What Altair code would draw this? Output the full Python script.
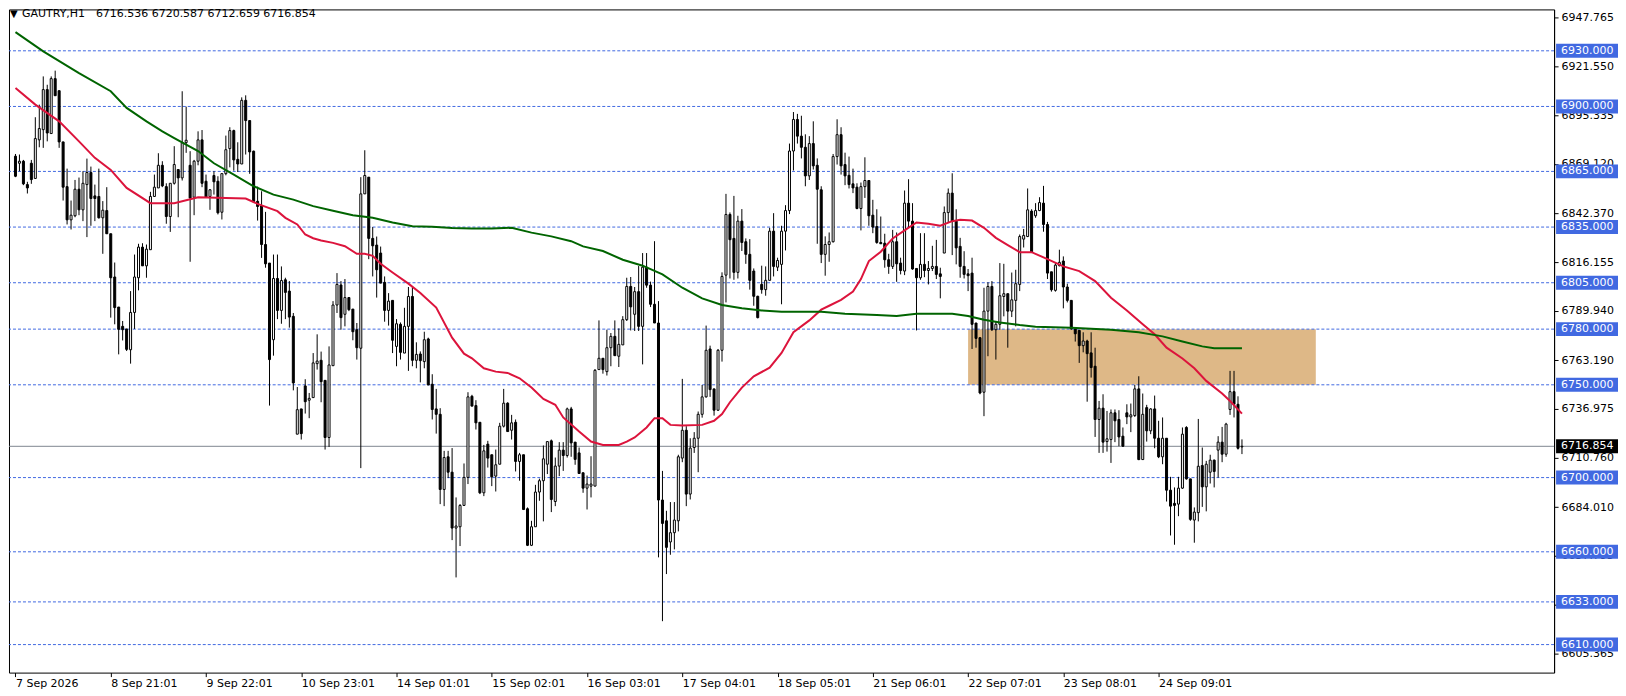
import json
import altair as alt
import pandas as pd

# ---- hourly OHLC candles ----
open_ = [6873.2, 6869.4, 6870.5, 6857.9, 6869.4, 6861.2, 6882.0, 6887.5, 6909.1, 6885.4,
         6915.0, 6908.5, 6880.9, 6856.8, 6838.9, 6841.1, 6855.4, 6844.3, 6857.9, 6864.4,
         6851.8, 6851.5, 6840.0, 6843.9, 6831.4, 6808.1, 6791.9, 6781.5, 6780.1, 6768.9,
         6789.0, 6807.7, 6824.2, 6814.1, 6822.8, 6851.5, 6856.1, 6868.3, 6856.8, 6840.7,
         6858.6, 6866.0, 6861.5, 6880.5, 6868.3, 6851.1, 6870.5, 6882.0, 6859.7, 6851.5,
         6862.8, 6859.7, 6843.0, 6863.8, 6877.3, 6887.0, 6871.5, 6869.0, 6903.3, 6892.4,
         6875.9, 6848.9, 6846.4, 6825.6, 6815.6, 6774.3, 6807.3, 6790.1, 6806.6, 6800.5,
         6786.9, 6723.4, 6737.0, 6749.4, 6741.7, 6743.1, 6761.4, 6763.2, 6752.4, 6721.6,
         6760.3, 6793.0, 6803.8, 6788.0, 6797.0, 6790.8, 6779.7, 6769.7, 6852.9, 6861.9,
         6828.9, 6825.3, 6821.0, 6805.2, 6790.1, 6795.5, 6770.7, 6782.6, 6767.1, 6781.5,
         6797.6, 6763.2, 6766.6, 6762.5, 6774.7, 6750.3, 6737.0, 6734.1, 6693.6, 6711.2,
         6702.9, 6672.8, 6673.5, 6685.0, 6700.1, 6743.8, 6738.8, 6729.8, 6691.8, 6718.0,
         6712.3, 6700.8, 6707.2, 6727.7, 6740.1, 6725.5, 6729.8, 6708.7, 6712.3, 6683.2,
         6663.5, 6673.5, 6692.2, 6698.3, 6707.2, 6719.8, 6687.1, 6706.2, 6714.8, 6711.9,
         6737.0, 6719.1, 6713.3, 6702.6, 6694.3, 6695.4, 6695.4, 6758.2, 6764.3, 6757.1,
         6770.0, 6776.1, 6765.4, 6771.5, 6785.1, 6803.0, 6788.0, 6800.2, 6781.5, 6813.4,
         6803.7, 6793.4, 6783.3, 6687.9, 6676.7, 6665.3, 6670.3, 6676.7, 6710.5, 6725.5,
         6691.1, 6716.2, 6721.2, 6734.1, 6743.5, 6769.3, 6747.8, 6736.3, 6768.6, 6809.1,
         6841.8, 6828.9, 6810.6, 6838.2, 6827.1, 6820.3, 6811.3, 6797.7, 6804.1, 6801.3,
         6806.3, 6832.8, 6813.4, 6814.9, 6832.8, 6843.9, 6876.0, 6893.0, 6884.0, 6878.0,
         6862.6, 6880.0, 6868.3, 6855.1, 6820.3, 6825.6, 6827.1, 6873.0, 6884.8, 6868.7,
         6862.9, 6858.3, 6856.5, 6845.0, 6856.8, 6860.1, 6841.4, 6835.3, 6826.7, 6826.3,
         6817.4, 6813.8, 6827.1, 6815.6, 6811.3, 6847.9, 6838.2, 6812.7, 6807.7, 6814.9,
         6811.6, 6812.7, 6813.8, 6809.8, 6821.0, 6842.8, 6853.3, 6838.2, 6824.6, 6813.8,
         6809.8, 6810.2, 6783.3, 6775.4, 6746.0, 6789.7, 6803.0, 6779.7, 6782.6, 6797.6,
         6799.1, 6789.7, 6795.5, 6804.1, 6828.5, 6829.9, 6843.6, 6841.1, 6843.9, 6847.9,
         6836.4, 6810.9, 6800.9, 6814.2, 6816.7, 6802.7, 6795.5, 6780.1, 6779.3, 6771.1,
         6773.6, 6767.2, 6760.0, 6731.3, 6737.4, 6719.4, 6720.5, 6734.9, 6731.3, 6722.3,
         6734.9, 6732.7, 6733.4, 6747.8, 6709.7, 6737.7, 6725.2, 6737.0, 6721.2, 6711.2,
         6721.2, 6693.2, 6686.1, 6685.7, 6694.3, 6727.0, 6699.3, 6677.1, 6681.1, 6706.5,
         6695.0, 6702.9, 6709.4, 6714.8, 6719.1, 6712.6, 6736.7, 6746.3, 6739.5, 6716.536]

high = [6874.4, 6874.1, 6871.2, 6859.4, 6871.2, 6894.2, 6901.0, 6916.2, 6911.7, 6916.2,
        6919.3, 6908.5, 6880.9, 6866.5, 6849.3, 6860.4, 6861.7, 6865.1, 6871.9, 6867.6,
        6857.9, 6866.5, 6849.0, 6856.5, 6831.4, 6815.9, 6791.9, 6784.4, 6780.1, 6800.5,
        6820.2, 6826.0, 6826.3, 6825.6, 6854.0, 6863.3, 6874.8, 6870.5, 6858.6, 6858.6,
        6878.6, 6866.0, 6908.2, 6899.9, 6875.9, 6871.2, 6886.6, 6887.3, 6863.3, 6855.4,
        6865.1, 6862.4, 6863.8, 6884.3, 6888.8, 6887.5, 6880.7, 6904.9, 6906.0, 6892.4,
        6876.2, 6856.8, 6854.3, 6843.2, 6815.6, 6820.2, 6820.2, 6813.8, 6807.7, 6805.9,
        6788.7, 6748.8, 6737.0, 6753.0, 6745.6, 6767.1, 6777.2, 6767.9, 6752.4, 6770.7,
        6795.1, 6810.2, 6805.9, 6807.0, 6797.3, 6790.8, 6783.3, 6861.9, 6876.4, 6861.9,
        6835.0, 6829.9, 6824.5, 6808.4, 6799.4, 6795.5, 6785.4, 6783.6, 6791.5, 6802.7,
        6802.7, 6772.9, 6768.0, 6778.6, 6775.4, 6755.7, 6747.8, 6737.4, 6714.4, 6714.4,
        6715.9, 6689.3, 6685.7, 6707.6, 6746.0, 6744.6, 6741.7, 6729.8, 6717.6, 6719.8,
        6712.3, 6715.1, 6729.5, 6747.8, 6740.6, 6733.8, 6731.3, 6713.3, 6712.3, 6683.9,
        6676.7, 6696.1, 6699.4, 6717.3, 6719.4, 6720.5, 6710.8, 6719.1, 6719.1, 6737.7,
        6738.1, 6719.1, 6716.2, 6702.6, 6701.1, 6711.5, 6758.5, 6784.7, 6764.3, 6779.7,
        6777.9, 6784.7, 6780.4, 6787.0, 6807.7, 6808.1, 6802.7, 6814.0, 6821.0, 6821.0,
        6805.6, 6827.4, 6795.1, 6703.6, 6682.1, 6686.8, 6686.8, 6712.3, 6753.2, 6727.7,
        6721.2, 6724.5, 6735.6, 6749.9, 6781.9, 6771.1, 6747.8, 6769.3, 6810.6, 6852.9,
        6842.9, 6851.8, 6841.1, 6844.7, 6828.9, 6828.5, 6812.7, 6798.0, 6814.2, 6813.8,
        6834.6, 6842.5, 6818.5, 6835.7, 6846.8, 6880.0, 6897.0, 6896.0, 6895.0, 6885.0,
        6884.0, 6892.0, 6872.0, 6857.0, 6830.0, 6832.1, 6874.4, 6893.1, 6888.8, 6875.1,
        6873.0, 6866.5, 6858.6, 6859.0, 6872.6, 6860.1, 6849.7, 6844.6, 6840.7, 6831.4,
        6820.6, 6833.5, 6832.1, 6818.5, 6854.7, 6860.8, 6847.9, 6812.7, 6831.7, 6831.7,
        6816.7, 6824.9, 6828.1, 6813.1, 6846.1, 6855.8, 6864.0, 6844.6, 6829.2, 6822.0,
        6812.4, 6818.5, 6783.3, 6775.4, 6802.3, 6805.2, 6805.9, 6784.4, 6815.6, 6815.2,
        6799.1, 6810.5, 6812.0, 6831.0, 6834.0, 6855.8, 6844.6, 6847.9, 6851.1, 6857.2,
        6837.8, 6810.9, 6815.6, 6822.8, 6819.2, 6804.5, 6795.5, 6780.4, 6779.3, 6778.3,
        6774.3, 6778.3, 6770.0, 6741.3, 6744.9, 6735.9, 6736.7, 6736.7, 6736.3, 6727.0,
        6739.5, 6739.9, 6749.9, 6754.6, 6745.3, 6739.2, 6737.4, 6744.2, 6730.6, 6732.4,
        6721.2, 6700.4, 6694.7, 6700.4, 6727.0, 6727.7, 6699.3, 6683.9, 6731.6, 6716.2,
        6709.0, 6712.3, 6709.7, 6722.3, 6727.3, 6729.5, 6757.5, 6757.5, 6743.8, 6720.587]

low = [6861.9, 6865.1, 6857.6, 6853.1, 6858.3, 6861.2, 6878.0, 6877.7, 6881.2, 6885.4,
       6905.8, 6877.7, 6849.3, 6836.4, 6833.7, 6840.3, 6841.4, 6838.2, 6829.6, 6835.7,
       6838.2, 6839.6, 6820.6, 6831.4, 6786.2, 6782.6, 6766.4, 6773.9, 6768.2, 6761.4,
       6780.1, 6800.9, 6814.1, 6807.7, 6822.8, 6851.5, 6856.1, 6856.5, 6836.8, 6832.4,
       6857.9, 6840.3, 6860.1, 6875.0, 6816.3, 6841.4, 6868.3, 6856.5, 6850.7, 6844.3,
       6852.5, 6841.8, 6839.1, 6862.9, 6867.2, 6865.4, 6864.7, 6869.0, 6874.1, 6863.7,
       6848.6, 6838.5, 6818.4, 6813.1, 6738.8, 6765.7, 6785.4, 6782.9, 6785.4, 6780.8,
       6747.0, 6723.4, 6720.5, 6734.5, 6732.0, 6743.1, 6758.2, 6740.6, 6715.1, 6716.5,
       6760.3, 6788.7, 6779.7, 6781.5, 6789.7, 6774.0, 6763.6, 6705.1, 6852.9, 6817.7,
       6808.4, 6797.0, 6804.8, 6784.0, 6781.9, 6767.1, 6760.0, 6763.6, 6767.1, 6757.5,
       6760.0, 6758.9, 6751.3, 6758.9, 6749.9, 6731.3, 6723.7, 6685.7, 6684.6, 6699.7,
       6666.3, 6646.2, 6663.1, 6685.0, 6696.5, 6738.5, 6725.9, 6691.1, 6690.0, 6705.4,
       6695.4, 6692.5, 6707.2, 6727.0, 6724.8, 6720.5, 6703.3, 6698.3, 6682.5, 6663.1,
       6663.1, 6673.5, 6687.5, 6676.4, 6701.9, 6681.4, 6684.6, 6700.8, 6703.6, 6710.8,
       6711.2, 6706.9, 6702.2, 6691.8, 6682.8, 6689.3, 6695.4, 6758.2, 6756.0, 6755.0,
       6760.0, 6765.7, 6759.6, 6771.5, 6784.4, 6779.3, 6779.0, 6779.0, 6761.0, 6802.3,
       6791.9, 6783.3, 6657.0, 6622.6, 6648.0, 6658.4, 6661.3, 6671.0, 6708.3, 6684.6,
       6688.2, 6713.3, 6702.9, 6732.3, 6743.1, 6743.5, 6733.4, 6736.0, 6762.5, 6794.4,
       6807.3, 6806.6, 6807.3, 6822.1, 6815.2, 6801.3, 6792.6, 6785.8, 6799.1, 6798.0,
       6806.3, 6808.4, 6811.3, 6793.4, 6822.4, 6842.0, 6865.5, 6880.0, 6872.0, 6857.0,
       6860.4, 6866.0, 6826.0, 6815.6, 6808.8, 6816.3, 6826.7, 6868.7, 6863.3, 6857.6,
       6855.8, 6853.3, 6844.6, 6833.2, 6850.7, 6835.7, 6831.7, 6826.0, 6826.0, 6813.1,
       6809.8, 6812.4, 6805.5, 6809.5, 6809.1, 6834.6, 6812.0, 6779.3, 6806.6, 6808.0,
       6804.1, 6811.3, 6807.0, 6796.6, 6821.0, 6837.5, 6819.9, 6814.9, 6807.7, 6807.3,
       6800.5, 6769.3, 6770.0, 6744.9, 6733.1, 6765.4, 6779.0, 6763.6, 6779.7, 6786.9,
       6770.0, 6786.5, 6781.5, 6800.5, 6824.0, 6829.6, 6821.0, 6840.0, 6843.6, 6832.5,
       6807.0, 6800.2, 6800.2, 6813.8, 6791.2, 6794.4, 6779.7, 6773.3, 6761.8, 6767.5,
       6740.9, 6753.9, 6721.9, 6713.3, 6713.3, 6714.0, 6707.9, 6719.1, 6716.9, 6716.6,
       6728.8, 6724.5, 6732.7, 6709.4, 6709.7, 6719.4, 6723.4, 6715.8, 6710.5, 6707.2,
       6687.1, 6668.8, 6663.8, 6679.2, 6693.9, 6698.9, 6676.7, 6664.9, 6676.4, 6684.2,
       6681.8, 6696.8, 6694.7, 6700.0, 6708.3, 6711.2, 6733.8, 6732.4, 6715.1, 6712.659]

close = [6862.4, 6870.5, 6858.3, 6856.1, 6860.6, 6882.7, 6888.1, 6909.1, 6885.7, 6915.0,
         6905.8, 6880.9, 6856.5, 6838.9, 6841.4, 6855.4, 6844.3, 6858.6, 6864.4, 6850.4,
         6850.4, 6840.0, 6844.1, 6831.4, 6807.7, 6791.6, 6779.9, 6779.7, 6769.1, 6789.0,
         6808.1, 6824.2, 6814.1, 6823.1, 6851.5, 6856.5, 6868.3, 6857.2, 6840.7, 6858.6,
         6868.7, 6861.5, 6880.5, 6881.8, 6850.7, 6870.5, 6882.0, 6858.6, 6851.1, 6855.1,
         6859.4, 6842.7, 6863.8, 6876.7, 6887.0, 6871.2, 6869.0, 6903.3, 6892.4, 6875.5,
         6848.6, 6846.1, 6825.6, 6815.2, 6763.6, 6807.3, 6790.1, 6806.2, 6799.8, 6786.5,
         6751.0, 6736.6, 6723.7, 6740.9, 6742.7, 6761.8, 6762.8, 6751.7, 6721.6, 6760.7,
         6793.0, 6804.1, 6786.2, 6797.0, 6790.5, 6778.6, 6770.0, 6852.9, 6862.8, 6828.9,
         6824.9, 6812.0, 6804.8, 6790.1, 6795.1, 6774.0, 6782.9, 6767.5, 6781.5, 6797.6,
         6763.2, 6766.4, 6763.0, 6774.3, 6749.9, 6736.7, 6734.1, 6693.6, 6710.8, 6702.9,
         6672.8, 6673.9, 6685.0, 6700.1, 6743.5, 6738.5, 6729.5, 6691.8, 6714.4, 6710.5,
         6700.4, 6706.9, 6727.7, 6740.1, 6724.8, 6729.5, 6708.7, 6712.3, 6682.8, 6663.5,
         6673.5, 6692.2, 6698.3, 6710.1, 6719.4, 6688.2, 6706.2, 6714.8, 6711.9, 6737.0,
         6718.7, 6709.8, 6702.2, 6694.3, 6696.5, 6696.5, 6757.8, 6764.3, 6758.2, 6770.0,
         6776.1, 6765.7, 6771.8, 6785.1, 6803.0, 6792.0, 6800.2, 6781.5, 6813.4, 6803.7,
         6793.4, 6783.3, 6687.9, 6675.3, 6662.4, 6670.3, 6677.1, 6711.2, 6725.5, 6691.1,
         6715.9, 6721.2, 6734.1, 6743.5, 6768.6, 6747.4, 6736.3, 6768.6, 6808.4, 6841.8,
         6828.2, 6810.6, 6838.2, 6826.7, 6820.3, 6806.3, 6797.7, 6786.2, 6801.3, 6806.3,
         6832.8, 6813.8, 6817.0, 6832.8, 6843.9, 6876.0, 6893.0, 6884.0, 6878.0, 6862.6,
         6880.0, 6868.0, 6855.4, 6820.3, 6825.6, 6827.1, 6873.0, 6884.8, 6868.0, 6862.6,
         6857.9, 6856.1, 6845.0, 6856.8, 6860.1, 6841.1, 6835.0, 6826.7, 6826.0, 6817.4,
         6813.8, 6827.1, 6815.2, 6811.6, 6847.9, 6838.2, 6812.4, 6807.7, 6814.9, 6811.6,
         6812.7, 6813.8, 6809.5, 6808.4, 6842.8, 6853.3, 6838.2, 6823.8, 6813.8, 6809.5,
         6808.8, 6782.6, 6775.0, 6745.6, 6789.7, 6803.0, 6779.7, 6782.6, 6798.0, 6799.1,
         6789.7, 6795.8, 6804.5, 6829.9, 6830.5, 6844.3, 6821.3, 6843.9, 6848.2, 6836.4,
         6810.2, 6801.2, 6814.5, 6816.0, 6802.7, 6795.5, 6780.1, 6777.5, 6771.1, 6773.6,
         6766.8, 6759.3, 6731.3, 6737.4, 6719.1, 6720.9, 6734.9, 6730.6, 6721.9, 6716.9,
         6732.7, 6733.8, 6747.8, 6709.7, 6734.1, 6725.2, 6737.0, 6721.2, 6711.2, 6721.2,
         6693.2, 6684.6, 6685.0, 6694.3, 6723.4, 6699.3, 6677.5, 6681.4, 6706.1, 6695.0,
         6707.2, 6709.4, 6703.3, 6719.1, 6712.6, 6728.8, 6746.3, 6739.5, 6715.8, 6716.854]

# ---- moving averages (sampled along the drawn lines) ----
red_idx = [0, 5, 11, 16, 20, 24, 28, 34, 40, 46, 53, 58, 61, 66, 68, 71, 73, 75, 77, 80,
           83, 86, 88, 90, 92, 95, 99, 102, 106, 110, 113, 115, 118, 121, 124, 127, 130, 133,
           136, 138, 142, 145, 148, 152, 154, 156, 159, 161, 163, 165, 168, 173, 176, 178,
           180, 183, 186, 190, 193, 196, 200, 203, 205, 208, 211, 213, 215, 218, 221, 224,
           227, 230, 233, 236, 238, 241, 244, 247, 250, 253, 256, 260, 264, 268, 272, 276,
           280, 284, 287, 290, 294, 297, 300, 304, 306, 309]
red_val = [6909.9, 6901.0, 6892.0, 6881.2, 6872.3, 6865.8, 6856.1, 6847.9, 6847.9, 6851.1,
           6850.7, 6850.4, 6847.5, 6843.6, 6840.0, 6836.4, 6831.0, 6829.0, 6827.8, 6826.5,
           6824.7, 6820.6, 6820.6, 6819.5, 6815.2, 6810.5, 6804.5, 6799.5, 6791.6, 6775.4,
           6766.8, 6764.3, 6758.9, 6757.1, 6756.4, 6753.5, 6748.5, 6742.4, 6739.2, 6732.4,
           6724.8, 6719.4, 6717.6, 6717.6, 6719.4, 6721.6, 6727.0, 6732.0, 6732.0, 6728.4,
           6728.1, 6728.4, 6730.6, 6734.2, 6740.6, 6748.5, 6754.6, 6759.2, 6767.2, 6778.3,
           6784.7, 6790.5, 6792.6, 6795.8, 6800.2, 6807.0, 6816.7, 6821.7, 6828.9, 6833.2,
           6837.5, 6836.8, 6835.7, 6838.2, 6838.9, 6838.5, 6834.6, 6829.2, 6825.3, 6821.5,
           6821.5, 6817.7, 6813.8, 6811.3, 6805.9, 6796.9, 6790.1, 6782.6, 6777.2, 6770.0,
           6764.2, 6758.9, 6752.1, 6745.3, 6741.3, 6734.5]

green_idx = [0, 7, 16, 24, 28, 33, 37, 40, 46, 50, 55, 60, 65, 70, 75, 80, 85, 90, 95, 100,
             105, 110, 115, 120, 125, 130, 135, 140, 143, 148, 153, 158, 163, 168, 173, 178,
             183, 188, 193, 203, 209, 217, 222, 227, 236, 240, 244, 248, 253, 257, 266, 276,
             283, 289, 294, 299, 302, 309]
green_val = [6940.1, 6929.7, 6918.0, 6908.2, 6899.2, 6892.0, 6886.6, 6883.0, 6876.0, 6869.4,
             6863.3, 6857.0, 6852.5, 6849.8, 6846.3, 6843.8, 6841.4, 6840.0, 6837.5, 6835.5,
             6835.2, 6834.5, 6834.3, 6834.3, 6834.6, 6832.0, 6830.0, 6827.4, 6824.6, 6822.1,
             6817.4, 6814.2, 6809.5, 6802.3, 6796.6, 6793.0, 6791.2, 6790.1, 6789.4, 6789.4,
             6788.3, 6787.6, 6787.1, 6788.3, 6788.3, 6787.1, 6785.1, 6783.6, 6782.2, 6781.3,
             6780.8, 6779.7, 6778.3, 6776.1, 6773.3, 6770.7, 6769.7, 6769.7]

# ---- levels, axis ticks, labels ----
levels = [6930, 6900, 6865, 6835, 6805, 6780, 6750, 6700, 6660, 6633, 6610]
price_ticks = [6947.765, 6921.550, 6895.335, 6869.120, 6842.370, 6816.155, 6789.940,
               6763.190, 6736.975, 6710.760, 6684.010, 6657.795, 6631.580, 6605.365]
time_idx = [0, 24, 48, 72, 96, 120, 144, 168, 192, 216, 240, 264, 288]
time_labels = ["7 Sep 2026", "8 Sep 21:01", "9 Sep 22:01", "10 Sep 23:01", "14 Sep 01:01",
               "15 Sep 02:01", "16 Sep 03:01", "17 Sep 04:01", "18 Sep 05:01",
               "21 Sep 06:01", "22 Sep 07:01", "23 Sep 08:01", "24 Sep 09:01"]
zone_x = [240, 327.6]
zone_y = [6750, 6780]
last_price = 6716.854
symbol = "GAUTRY,H1"
ohlc_text = "6716.536 6720.587 6712.659 6716.854"

FONT = "DejaVu Sans"

n = len(open_)
df = pd.DataFrame({"i": list(range(n)), "o": open_, "h": high, "l": low, "c": close})
red_df = pd.DataFrame({"i": red_idx, "v": red_val})
green_df = pd.DataFrame({"i": green_idx, "v": green_val})
lev_df = pd.DataFrame({"level": levels})
lev_df["lo"] = lev_df["level"] - 3.75
lev_df["hi"] = lev_df["level"] + 3.75
cur_df = pd.DataFrame({"level": [last_price], "lo": [last_price - 3.75], "hi": [last_price + 3.75]})
zone_df = pd.DataFrame({"x0": [zone_x[0]], "x1": [zone_x[1]], "y0": [zone_y[0]], "y1": [zone_y[1]]})

xs = alt.Scale(domain=[-0.375, 386.375], nice=False, zero=False)
ys = alt.Scale(domain=[6594.9, 6952.3], nice=False, zero=False)

label_expr = json.dumps(time_labels) + "[round(datum.value / 24)]"
xaxis = alt.Axis(values=time_idx, labelExpr=label_expr, title=None, grid=False,
                 orient="bottom", tickSize=4, tickColor="black", domain=False,
                 labelAlign="left", labelBaseline="top", labelPadding=1,
                 labelFont=FONT, labelFontSize=11, labelColor="black",
                 labelFlush=False, labelOverlap=False, labelBound=False)
yaxis = alt.Axis(orient="right", values=price_ticks, format=".3f", title=None, grid=False,
                 tickSize=4, tickColor="black", labelPadding=3, domain=True,
                 domainColor="black", labelFont=FONT, labelFontSize=11,
                 labelColor="black", labelOverlap=False, labelFlush=False,
                 labelBound=False, labelBaseline="middle")


def X(f):
    return alt.X(f, type="quantitative", scale=xs, axis=xaxis)


def Y(f):
    return alt.Y(f, type="quantitative", scale=ys, axis=yaxis)


zone = alt.Chart(zone_df).mark_rect(color="#DEB887").encode(
    x=X("x0"), x2="x1", y=Y("y0"), y2="y1")

dashed = alt.Chart(lev_df).mark_rule(color="#4169E1", strokeWidth=1, strokeDash=[3, 2]).encode(
    y=Y("level"))

gray = alt.Chart(cur_df).mark_rule(color="#7f8690", strokeWidth=1).encode(y=Y("level"))

wicks = alt.Chart(df).mark_rule(color="black", strokeWidth=1).encode(
    x=X("i"), y=Y("l"), y2="h")

bodies = alt.Chart(df).mark_bar(size=2, stroke="black", strokeWidth=1).encode(
    x=X("i"), y=Y("o"), y2="c",
    fill=alt.condition("datum.c >= datum.o", alt.value("white"), alt.value("black")))

red = alt.Chart(red_df).mark_line(color="#DC143C", strokeWidth=2).encode(x=X("i"), y=Y("v"))
green = alt.Chart(green_df).mark_line(color="#006400", strokeWidth=2).encode(x=X("i"), y=Y("v"))

boxes = alt.Chart(lev_df).mark_rect(color="#4169E1", clip=False).encode(
    x=alt.value(1549), x2=alt.value(1611), y=Y("lo"), y2="hi")
box_txt = alt.Chart(lev_df).mark_text(align="left", baseline="middle", font=FONT,
                                      fontSize=11, color="white", clip=False).encode(
    x=alt.value(1554), y=Y("level"), text=alt.Text("level:Q", format=".3f"))

cur_box = alt.Chart(cur_df).mark_rect(color="black", clip=False).encode(
    x=alt.value(1549), x2=alt.value(1611), y=Y("lo"), y2="hi")
cur_txt = alt.Chart(cur_df).mark_text(align="left", baseline="middle", font=FONT,
                                      fontSize=11, color="white", clip=False).encode(
    x=alt.value(1554), y=Y("level"), text=alt.Text("level:Q", format=".3f"))

head_df = pd.DataFrame({"sym": [symbol], "vals": [ohlc_text], "tri": ["\u25bc"]})
tri = alt.Chart(head_df).mark_text(align="left", baseline="middle", font=FONT,
                                   fontSize=10, color="black").encode(
    x=alt.value(1), y=alt.value(5), text="tri:N")
head1 = alt.Chart(head_df).mark_text(align="left", baseline="middle", font=FONT,
                                     fontSize=11, color="black").encode(
    x=alt.value(13), y=alt.value(5), text="sym:N")
head2 = alt.Chart(head_df).mark_text(align="left", baseline="middle", font=FONT,
                                     fontSize=11, color="black").encode(
    x=alt.value(87), y=alt.value(5), text="vals:N")

chart = alt.layer(
    zone, dashed, gray, wicks, bodies, red, green,
    boxes, box_txt, cur_box, cur_txt, tri, head1, head2
).properties(
    width=1547, height=664,
    padding={"left": 0, "top": 0, "right": 0, "bottom": 0},
    background="white",
).configure_view(stroke="black", strokeWidth=1)

chart.save("out.html", embed_options={"renderer": "svg", "actions": False})
